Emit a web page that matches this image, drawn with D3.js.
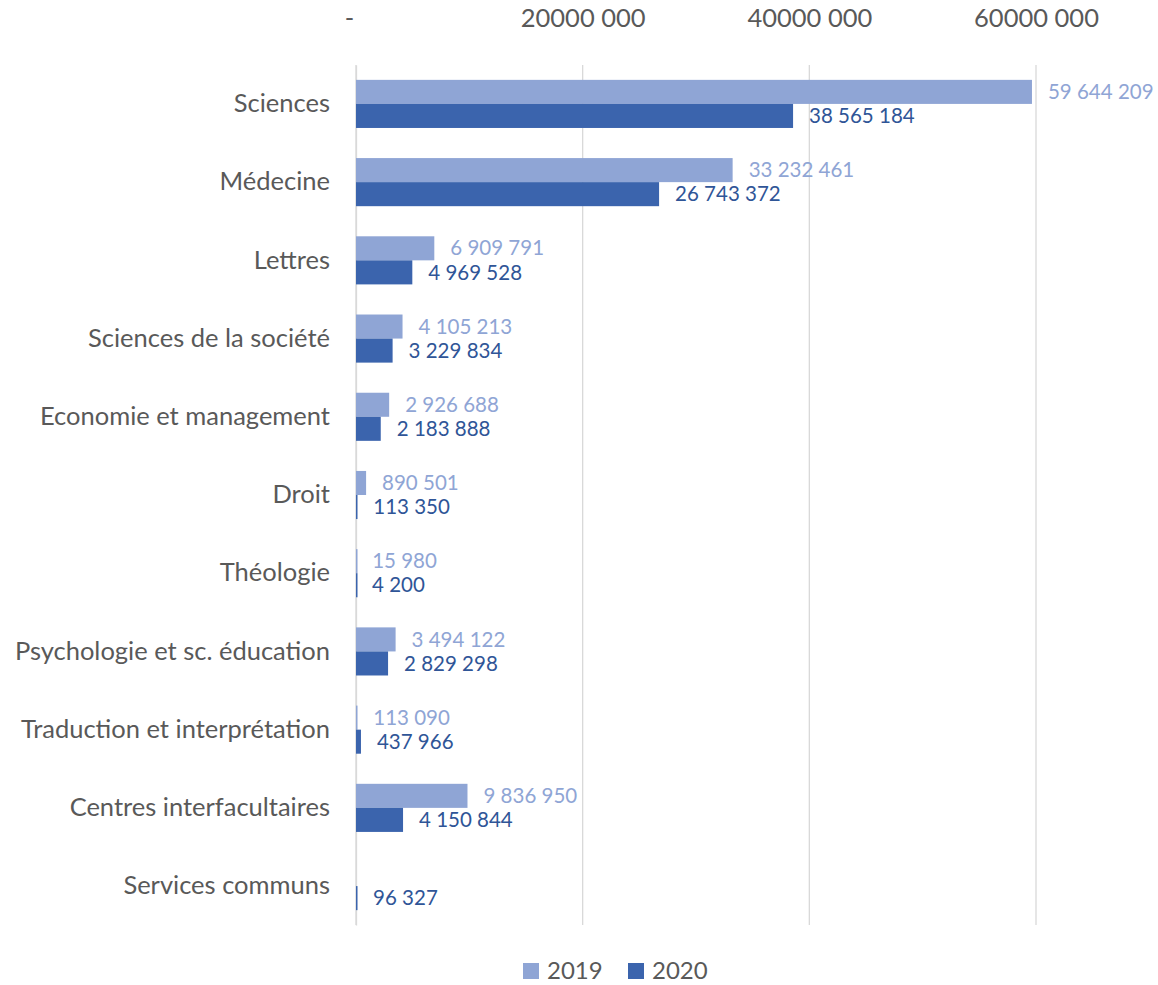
<!DOCTYPE html>
<html>
<head>
<meta charset="utf-8">
<script src="https://cdn.jsdelivr.net/npm/d3@7"></script>
<style>
	body { margin: 0; background: #fff; }
	svg text { font-family: Lato, "Open Sans", sans-serif; }
</style>
</head>
<body>
<svg id="chart"></svg>
<script>
// Data
const categories = ["Sciences", "Médecine", "Lettres", "Sciences de la société", "Economie et management",
	"Droit", "Théologie", "Psychologie et sc. éducation", "Traduction et interprétation",
	"Centres interfacultaires", "Services communs"];
const values2019 = [59644209, 33232461, 6909791, 4105213, 2926688, 890501, 15980, 3494122, 113090, 9836950, null];
const values2020 = [38565184, 26743372, 4969528, 3229834, 2183888, 113350, 4200, 2829298, 437966, 4150844, 96327];
const seriesNames = ["2019", "2020"];
const tickValues = [0, 20000000, 40000000, 60000000];

const WIDTH = 1158, HEIGHT = 985;
const MARGIN = {top: 65, right: 122, bottom: 60, left: 356};
const CHART_WIDTH = WIDTH - MARGIN.left - MARGIN.right;
const CHART_HEIGHT = HEIGHT - MARGIN.top - MARGIN.bottom;
const COLORS = ["#8FA5D5", "#3B64AD"];
const LABEL_COLORS = ["#8FA5D5", "#2F5597"];

const svg = d3.select("#chart").attr("width", WIDTH).attr("height", HEIGHT);
const chart = svg.append("g").attr("transform", `translate(${MARGIN.left}, ${MARGIN.top})`);

const xScale = d3.scaleLinear().domain([0, 60000000]).range([0, 680]);
const yScale = d3.scaleBand().domain(categories).range([0, CHART_HEIGHT]).paddingInner(0.385).paddingOuter(0.19);
const inner = d3.scaleBand().domain(seriesNames).range([0, yScale.bandwidth()]);

const fmt = v => d3.format(",")(v).replace(/,/g, " ");

// Gridlines
chart.append("g")
	.selectAll("line")
	.data(tickValues)
	.enter()
	.append("line")
	.attr("x1", d => xScale(d)).attr("x2", d => xScale(d))
	.attr("y1", 0).attr("y2", CHART_HEIGHT)
	.attr("stroke", "#d9d9d9").attr("stroke-width", 1.3);

// Top axis labels
const xAxis = chart.append("g")
	.attr("transform", `translate(0, -35)`)
	.call(d3.axisTop(xScale).tickValues(tickValues).tickSize(0)
		.tickFormat(d => d === 0 ? "-" : (d / 1000000) + "000 000"));
xAxis.select(".domain").remove();
xAxis.selectAll("text").attr("fill", "#595959").style("font-size", "25.5px").attr("dx", d => d === 0 ? -7 : 0);

// Category labels
const yAxis = chart.append("g")
	.call(d3.axisLeft(yScale).tickSize(0).tickPadding(26));
yAxis.select(".domain").attr("stroke", "#d9d9d9").attr("stroke-width", 1.3);
yAxis.selectAll("text").attr("fill", "#595959").style("font-size", "25.5px");

// Bars and labels
const seriesData = [values2019, values2020];
seriesData.forEach((vals, s) => {
	const rows = categories.map((c, i) => ({cat: c, v: vals[i]})).filter(d => d.v !== null);
	chart.selectAll(".bar" + s)
		.data(rows)
		.enter()
		.append("rect")
		.attr("x", 0)
		.attr("y", d => yScale(d.cat) + inner(seriesNames[s]))
		.attr("width", d => Math.max(xScale(d.v), 1.5))
		.attr("height", inner.bandwidth())
		.attr("fill", COLORS[s]);

	chart.selectAll(".lab" + s)
		.data(rows)
		.enter()
		.append("text")
		.attr("x", d => xScale(d.v) + 16)
		.attr("y", d => yScale(d.cat) + inner(seriesNames[s]) + inner.bandwidth() / 2)
		.attr("dy", "0.35em")
		.attr("fill", LABEL_COLORS[s])
		.style("font-size", "20.5px")
		.text(d => fmt(d.v));
});

// Legend
const legend = svg.append("g").attr("transform", `translate(523, 971)`);
seriesNames.forEach((n, i) => {
	const g = legend.append("g").attr("transform", `translate(${i * 105}, 0)`);
	g.append("rect").attr("x", 0).attr("y", -8).attr("width", 16).attr("height", 16).attr("fill", COLORS[i]);
	g.append("text").attr("x", 24).attr("y", 0).attr("dy", "0.35em")
		.attr("fill", "#595959").style("font-size", "24px").text(n);
});
</script>
</body>
</html>
